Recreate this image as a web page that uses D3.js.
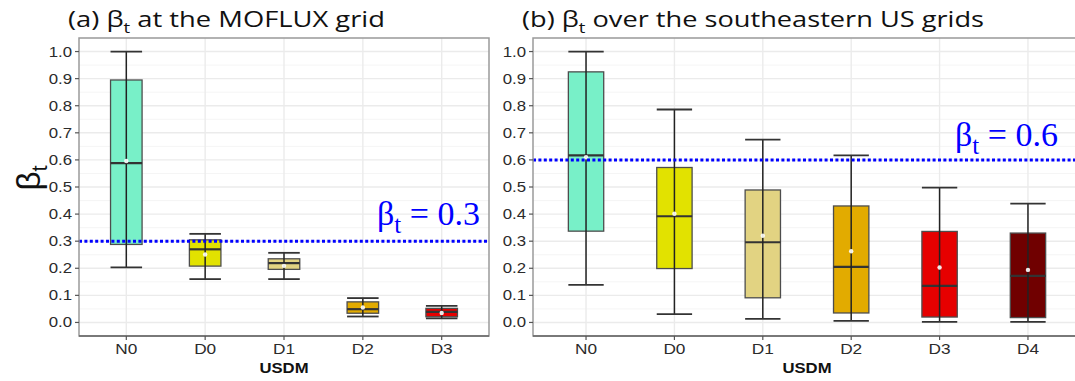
<!DOCTYPE html>
<html>
<head>
<meta charset="utf-8">
<script src="https://cdn.jsdelivr.net/npm/d3@7"></script>
<style>
  body { margin: 0; background: #fff; }
  svg { display: block; }
</style>
</head>
<body>
<div id="chart"></div>
<script>
// drought categories
const catsA = ['N0', 'D0', 'D1', 'D2', 'D3'];
const catsB = ['N0', 'D0', 'D1', 'D2', 'D3', 'D4'];

// (a) MOFLUX grid box stats
const lowA = [0.203, 0.160, 0.160, 0.022, 0.015];
const q1A = [0.288, 0.208, 0.196, 0.034, 0.021];
const medA = [0.588, 0.270, 0.219, 0.049, 0.039];
const q3A = [0.895, 0.305, 0.235, 0.076, 0.052];
const highA = [1.000, 0.327, 0.257, 0.090, 0.061];
const meanA = [0.596, 0.251, 0.209, 0.055, 0.035];

// (b) southeastern US grids box stats
const lowB = [0.139, 0.031, 0.013, 0.006, 0.002, 0.002];
const q1B = [0.337, 0.199, 0.091, 0.035, 0.020, 0.018];
const medB = [0.617, 0.392, 0.296, 0.205, 0.135, 0.172];
const q3B = [0.925, 0.572, 0.489, 0.430, 0.336, 0.330];
const highB = [1.000, 0.786, 0.675, 0.617, 0.498, 0.439];
const meanB = [0.610, 0.401, 0.320, 0.263, 0.203, 0.194];

const thresholdA = 0.3;
const thresholdB = 0.6;

const yTicks = [0, 0.1, 0.2, 0.3, 0.4, 0.5, 0.6, 0.7, 0.8, 0.9, 1.0];
const yMinor = [-0.05, 0.05, 0.15, 0.25, 0.35, 0.45, 0.55, 0.65, 0.75, 0.85, 0.95, 1.05];

const fillColor = {
  N0: '#78F0C8', D0: '#E2E200', D1: '#E2D382', D2: '#E2AB00', D3: '#E60000', D4: '#700000'
};

const W = 1075, H = 381;
const sansTick = '"Liberation Sans", Arial, sans-serif';
const sansTitle = '"Open Sans", "Noto Sans", sans-serif';

const svg = d3.select('#chart').append('svg')
  .attr('width', W)
  .attr('height', H);

function stretchText(g, x, y, sx, str) {
  return g.append('text')
    .attr('transform', `translate(${x},${y}) scale(${sx},1)`)
    .text(str);
}

function drawPanel(cfg) {
  const x = d3.scalePoint()
    .domain(cfg.cats)
    .range([cfg.left, cfg.right])
    .padding(0.6);

  const y = d3.scaleLinear()
    .domain([-0.05, 1.05])
    .range([cfg.bottom, cfg.top]);

  const step = x.step();
  const bw = step * 0.4;

  const g = svg.append('g');

  // panel background and grid
  g.append('rect')
    .attr('x', cfg.left).attr('y', cfg.top)
    .attr('width', cfg.right - cfg.left).attr('height', cfg.bottom - cfg.top)
    .attr('fill', '#fff');

  g.selectAll('.minor')
    .data(yMinor)
    .enter().append('line')
    .attr('x1', cfg.left).attr('x2', cfg.right)
    .attr('y1', d => y(d)).attr('y2', d => y(d))
    .attr('stroke', '#F2F2F2').attr('stroke-width', 0.8);

  g.selectAll('.major')
    .data(yTicks)
    .enter().append('line')
    .attr('x1', cfg.left).attr('x2', cfg.right)
    .attr('y1', d => y(d)).attr('y2', d => y(d))
    .attr('stroke', '#EBEBEB').attr('stroke-width', 1.4);

  g.selectAll('.vgrid')
    .data(cfg.cats)
    .enter().append('line')
    .attr('x1', d => x(d)).attr('x2', d => x(d))
    .attr('y1', cfg.top).attr('y2', cfg.bottom)
    .attr('stroke', '#EBEBEB').attr('stroke-width', 1.4);

  // boxes
  const rows = cfg.cats.map((c, i) => ({
    cat: c, low: cfg.low[i], q1: cfg.q1[i], med: cfg.med[i],
    q3: cfg.q3[i], high: cfg.high[i], mean: cfg.mean[i]
  }));

  const box = g.selectAll('.box')
    .data(rows)
    .enter().append('g');

  box.append('rect')
    .attr('x', d => x(d.cat) - bw / 2)
    .attr('y', d => y(d.q3))
    .attr('width', bw)
    .attr('height', d => y(d.q1) - y(d.q3))
    .attr('fill', d => fillColor[d.cat])
    .attr('stroke', '#4D4D4D')
    .attr('stroke-width', 1.3);

  box.append('line')
    .attr('x1', d => x(d.cat) - bw / 2).attr('x2', d => x(d.cat) + bw / 2)
    .attr('y1', d => y(d.med)).attr('y2', d => y(d.med))
    .attr('stroke', '#333').attr('stroke-width', 2.2);

  // error bars (whiskers with caps), drawn on top
  box.append('line')
    .attr('x1', d => x(d.cat)).attr('x2', d => x(d.cat))
    .attr('y1', d => y(d.low)).attr('y2', d => y(d.high))
    .attr('stroke', '#222').attr('stroke-width', 1.5);

  ['low', 'high'].forEach(k => {
    box.append('line')
      .attr('x1', d => x(d.cat) - bw / 2).attr('x2', d => x(d.cat) + bw / 2)
      .attr('y1', d => y(d[k])).attr('y2', d => y(d[k]))
      .attr('stroke', '#333').attr('stroke-width', 1.8);
  });

  box.append('circle')
    .attr('cx', d => x(d.cat))
    .attr('cy', d => y(d.mean))
    .attr('r', 2.2)
    .attr('fill', '#fff')
    .attr('opacity', 0.9);

  // threshold line
  g.append('line')
    .attr('x1', cfg.left).attr('x2', cfg.right)
    .attr('y1', y(cfg.threshold)).attr('y2', y(cfg.threshold))
    .attr('stroke', '#0000FF')
    .attr('stroke-width', 3)
    .attr('stroke-dasharray', '3,2.4');

  const lab = g.append('text')
    .attr('x', cfg.labelX)
    .attr('y', y(cfg.threshold) - cfg.labelLift)
    .attr('text-anchor', 'end')
    .attr('fill', '#0000FF')
    .attr('font-family', '"Liberation Serif", "Times New Roman", serif')
    .attr('font-size', 34);
  lab.append('tspan').text('β');
  lab.append('tspan').attr('dy', 8).attr('font-size', 25).text('t');
  lab.append('tspan').attr('dy', -8).text(' = ' + cfg.threshold.toFixed(1));

  // panel border
  g.append('rect')
    .attr('x', cfg.left).attr('y', cfg.top)
    .attr('width', cfg.right - cfg.left).attr('height', cfg.bottom - cfg.top)
    .attr('fill', 'none')
    .attr('stroke', '#9A9A9A')
    .attr('stroke-width', 1.5);

  g.append('line')
    .attr('x1', cfg.left).attr('x2', cfg.right)
    .attr('y1', cfg.bottom).attr('y2', cfg.bottom)
    .attr('stroke', '#666').attr('stroke-width', 1.5);

  // y axis
  const yAxis = g.append('g')
    .attr('font-family', sansTick)
    .attr('font-size', 14)
    .attr('fill', '#2b2b2b');

  yTicks.forEach(t => {
    yAxis.append('line')
      .attr('x1', cfg.left - 4).attr('x2', cfg.left)
      .attr('y1', y(t)).attr('y2', y(t))
      .attr('stroke', '#555').attr('stroke-width', 1.2);
    stretchText(yAxis, cfg.left - 7, y(t) + 5, 1.2, d3.format('.1f')(t))
      .attr('text-anchor', 'end');
  });

  // x axis
  const xAxis = g.append('g')
    .attr('font-family', sansTick)
    .attr('font-size', 15)
    .attr('fill', '#2b2b2b');

  cfg.cats.forEach(c => {
    xAxis.append('line')
      .attr('x1', x(c)).attr('x2', x(c))
      .attr('y1', cfg.bottom).attr('y2', cfg.bottom + 4)
      .attr('stroke', '#555').attr('stroke-width', 1.2);
    stretchText(xAxis, x(c), cfg.bottom + 18, 1.15, c)
      .attr('text-anchor', 'middle');
  });

  stretchText(g, cfg.xTitleX, 373, 1.15, 'USDM')
    .attr('text-anchor', 'middle')
    .attr('font-family', sansTick)
    .attr('font-weight', 'bold')
    .attr('font-size', 14.5)
    .attr('fill', '#111');

  // panel title
  const title = g.append('text')
    .attr('x', cfg.titleX)
    .attr('y', 27)
    .attr('font-family', sansTitle)
    .attr('font-size', 22)
    .attr('fill', '#111')
    .attr('textLength', cfg.titleLen)
    .attr('lengthAdjust', 'spacingAndGlyphs');
  title.append('tspan').text(cfg.titlePre);
  title.append('tspan').attr('dy', 6).attr('font-size', 15).text('t');
  title.append('tspan').attr('dy', -6).text(cfg.titlePost);
}

drawPanel({
  cats: catsA, low: lowA, q1: q1A, med: medA, q3: q3A, high: highA, mean: meanA,
  left: 79, right: 489, top: 38, bottom: 336,
  threshold: thresholdA, labelX: 480, labelLift: 16,
  xTitleX: 284,
  titleX: 68, titleLen: 317,
  titlePre: '(a) β', titlePost: ' at the MOFLUX grid'
});

drawPanel({
  cats: catsB, low: lowB, q1: q1B, med: medB, q3: q3B, high: highB, mean: meanB,
  left: 533, right: 1081, top: 38, bottom: 336,
  threshold: thresholdB, labelX: 1058, labelLift: 14,
  xTitleX: 807,
  titleX: 522, titleLen: 462,
  titlePre: '(b) β', titlePost: ' over the southeastern US grids'
});

// shared y-axis title
const yt = svg.append('text')
  .attr('transform', 'translate(40,178) rotate(-90)')
  .attr('text-anchor', 'middle')
  .attr('font-family', sansTick)
  .attr('font-size', 33)
  .attr('fill', '#111');
yt.append('tspan').text('β');
yt.append('tspan').attr('dy', 7).attr('font-size', 22).text('t');
</script>
</body>
</html>
